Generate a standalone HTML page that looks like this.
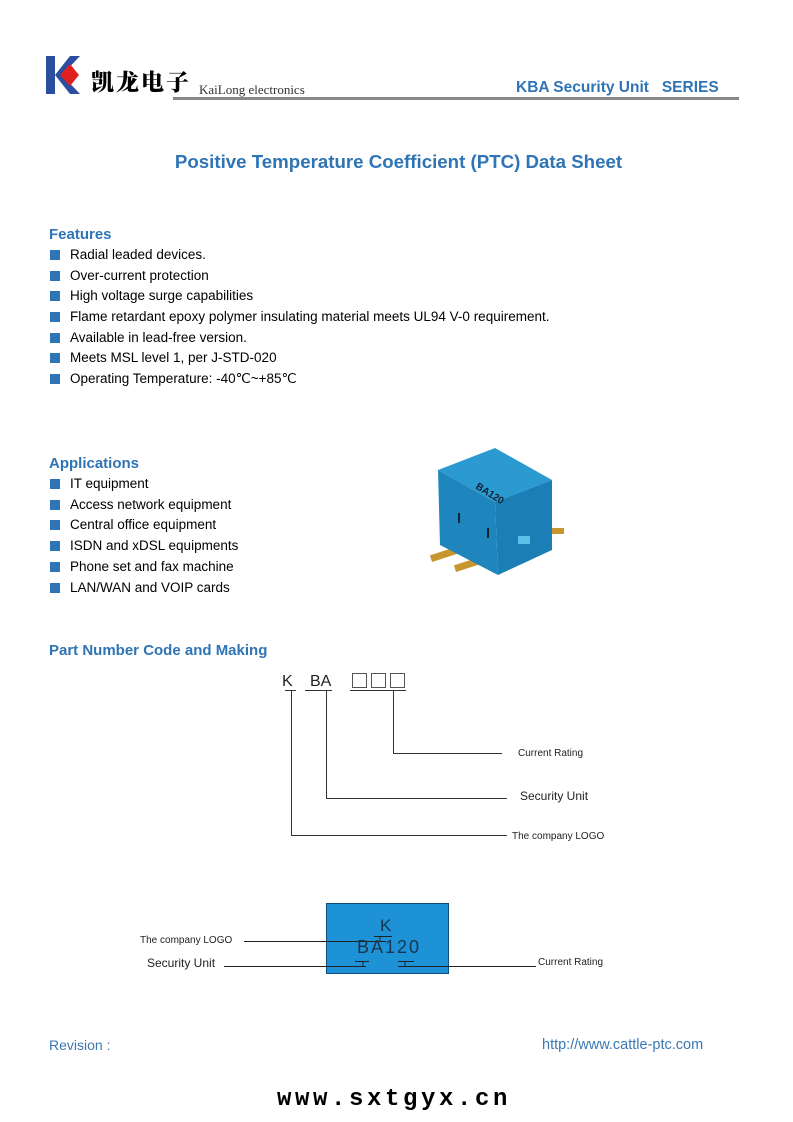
<!DOCTYPE html>
<html><head><meta charset="utf-8"><style>
*{margin:0;padding:0;box-sizing:border-box}
body{width:793px;height:1122px;position:relative;background:#fff;font-family:"Liberation Sans",Arial,sans-serif;color:#000;overflow:hidden}
.a{position:absolute;white-space:nowrap}
.h{color:#2f74b5;font-weight:bold;font-size:15px}
.li{position:absolute;left:50px;font-size:13.5px;line-height:16px}
.li:before{content:"";position:absolute;left:0;top:3px;width:10px;height:10px;background:#2f74b5}
.li span{position:absolute;left:20px;top:0;white-space:nowrap}
.c{font-family:"Liberation Sans",sans-serif;color:#222}
</style></head><body>
<!-- header -->
<svg class="a" style="left:46px;top:56px" width="34" height="38"><rect x="0" y="0" width="9" height="38" fill="#2a4fa0"/><polygon points="9,19 24,0 34,0 16,19 34,38 24,38" fill="#2a4fa0"/><polygon points="14,19 24,8 33,19 24,30" fill="#e02020"/></svg>
<div class="a" style="left:91px;top:64px;font-family:'Noto Serif CJK SC',serif;font-weight:900;font-size:23px;letter-spacing:2px">凯龙电子</div>
<div class="a" style="left:199px;top:82px;font-family:'Liberation Serif',serif;font-size:13px;color:#333">KaiLong electronics</div>
<div class="a" style="left:173px;top:97px;width:566px;height:3px;background:#888"></div>
<div class="a" style="left:516px;top:79px;font-weight:bold;font-size:15.5px;color:#2f74b5">KBA Security Unit&nbsp;&nbsp; SERIES</div>
<div class="a" style="left:0;width:797px;text-align:center;top:151px;font-weight:bold;font-size:18.7px;color:#2f74b5">Positive Temperature Coefficient (PTC) Data Sheet</div>
<!-- features -->
<div class="a h" style="left:49px;top:226px">Features</div>
<div class="li" style="top:247px"><span>Radial leaded devices.</span></div>
<div class="li" style="top:268px"><span>Over-current protection</span></div>
<div class="li" style="top:288px"><span>High voltage surge capabilities</span></div>
<div class="li" style="top:309px"><span>Flame retardant epoxy polymer insulating material meets UL94 V-0 requirement.</span></div>
<div class="li" style="top:330px"><span>Available in lead-free version.</span></div>
<div class="li" style="top:350px"><span>Meets MSL level 1, per J-STD-020</span></div>
<div class="li" style="top:371px"><span>Operating Temperature: -40℃~+85℃</span></div>
<div class="a h" style="left:49px;top:455px">Applications</div>
<div class="li" style="top:476px"><span>IT equipment</span></div>
<div class="li" style="top:497px"><span>Access network equipment</span></div>
<div class="li" style="top:517px"><span>Central office equipment</span></div>
<div class="li" style="top:538px"><span>ISDN and xDSL equipments</span></div>
<div class="li" style="top:559px"><span>Phone set and fax machine</span></div>
<div class="li" style="top:580px"><span>LAN/WAN and VOIP cards</span></div>
<!-- product image -->
<svg class="a" style="left:420px;top:440px" width="150" height="135">
<rect x="10" y="110" width="34" height="7" fill="#c8962e" transform="rotate(-18 27 113)"/>
<rect x="34" y="120" width="34" height="7" fill="#c8962e" transform="rotate(-18 51 123)"/>
<rect x="128" y="88" width="16" height="6" fill="#c8962e"/>
<polygon points="18,30 75,8 132,40 75,62" fill="#2a9ad0"/>
<polygon points="18,30 75,62 78,135 20,105" fill="#1f86bd"/>
<polygon points="75,62 132,40 132,110 78,135" fill="#1b7fb6"/>
<text x="55" y="48" font-size="10" font-weight="bold" font-family="Liberation Sans" fill="#123" transform="rotate(32 55 48)">BA120</text>
<rect x="98" y="96" width="12" height="8" fill="#5cc0e8"/>
<rect x="38" y="73" width="2" height="10" fill="#123"/><rect x="67" y="88" width="2" height="10" fill="#123"/>
</svg>
<!-- part number -->
<div class="a h" style="left:49px;top:642px">Part Number Code and Making</div>
<div class="a c" style="left:282px;top:673px;font-size:16px">K</div>
<div class="a c" style="left:310px;top:673px;font-size:16px">BA</div>
<svg class="a" style="left:0;top:0" width="793" height="1122" fill="none" stroke="#333" stroke-width="1">
<rect x="352.5" y="673.5" width="14" height="14" stroke="#555"/>
<rect x="371.5" y="673.5" width="14" height="14" stroke="#555"/>
<rect x="390.5" y="673.5" width="14" height="14" stroke="#555"/>
<path d="M285 690.5H296M305 690.5H332M350 690.5H406"/>
<path d="M291.5 690V835.5H507M326.5 690V798.5H507M393.5 690V753.5H502"/>
</svg>
<div class="a c" style="left:518px;top:748px;font-size:10px">Current Rating</div>
<div class="a c" style="left:520px;top:789px;font-size:12px">Security Unit</div>
<div class="a c" style="left:512px;top:831px;font-size:10px">The company LOGO</div>
<!-- marking -->
<div class="a" style="left:326px;top:903px;width:123px;height:71px;background:#1d92d6;border:1px solid #0d4f7a"></div>
<svg class="a" style="left:0;top:0" width="793" height="1122" fill="none" stroke="#222" stroke-width="1">
<path d="M244 941.5H386M380 941.5V936M374 936.5H392"/>
<path d="M224 966.5H366M363 966.5V961M355 961.5H369"/>
<path d="M398 966.5H536M405 966.5V961M398 961.5H414"/>
</svg>
<div class="a c" style="left:380px;top:916px;font-size:17px;color:#1a3550">K</div>
<div class="a c" style="left:357px;top:937px;font-size:18px;color:#1a3550;letter-spacing:2px">BA120</div>
<div class="a c" style="left:140px;top:935px;font-size:10px">The company LOGO</div>
<div class="a c" style="left:147px;top:956px;font-size:12px">Security Unit</div>
<div class="a c" style="left:538px;top:957px;font-size:10px">Current Rating</div>
<!-- footer -->
<div class="a" style="left:49px;top:1037px;font-size:14px;color:#3b78b4">Revision :</div>
<div class="a" style="left:542px;top:1037px;font-size:14.5px;color:#3b78b4">http://www.cattle-ptc.com</div>
<div class="a" style="left:277px;top:1086px;font-family:'Liberation Mono',monospace;font-weight:bold;font-size:24px;letter-spacing:3.6px">www.sxtgyx.cn</div>
</body></html>
